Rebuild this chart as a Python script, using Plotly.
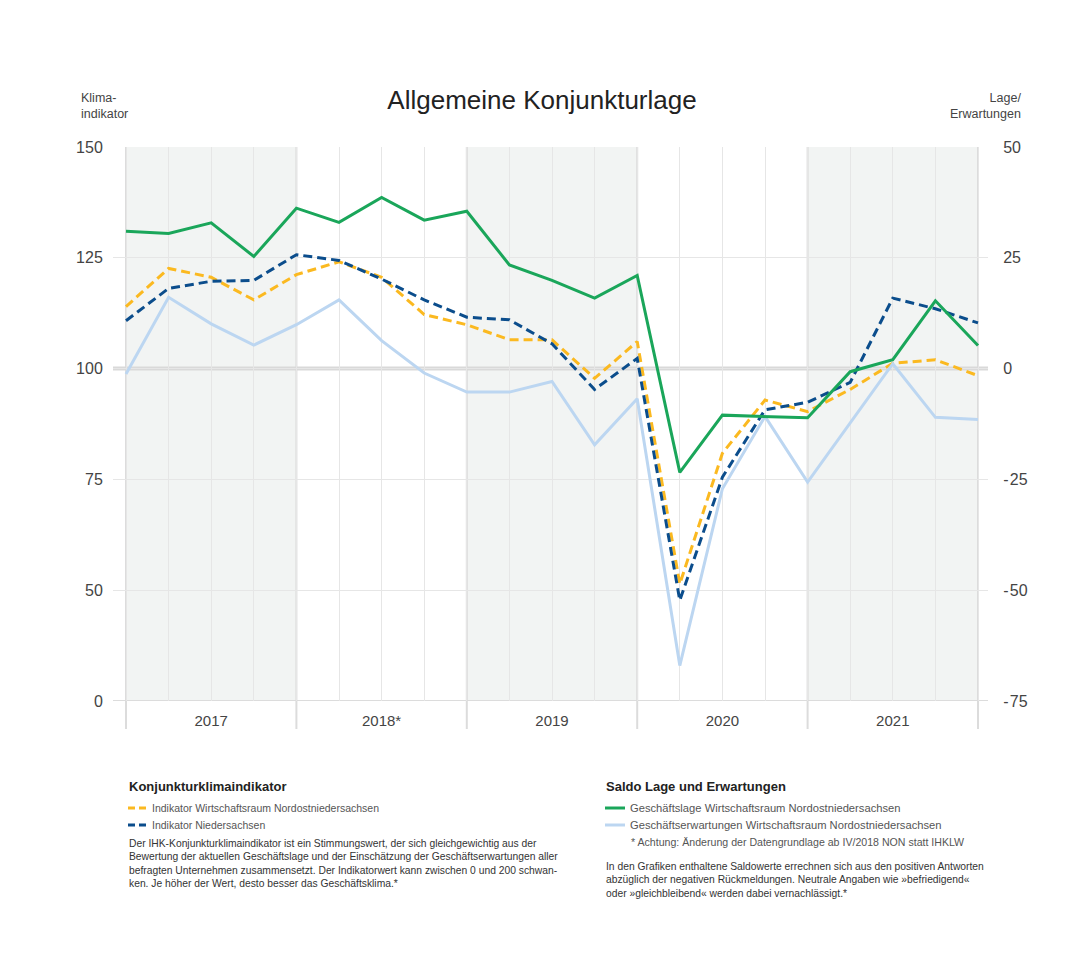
import plotly.graph_objects as go

# ---------------- data ----------------
years = ["2017", "2018*", "2019", "2020", "2021"]
waves_per_year = 4
periods = list(range(21))  # survey waves from start of 2017 to start of 2022

indikator_non = [114.0, 122.6, 120.6, 115.5, 121.2, 124.1, 120.6, 112.2, 109.9, 106.5, 106.5,
                 97.8, 106.1, 51.4, 80.9, 92.9, 90.3, 95.3, 101.2, 102.0, 98.4]
indikator_nds = [110.8, 118.1, 119.7, 119.9, 125.7, 124.4, 120.2, 115.5, 111.6, 111.0, 105.6,
                 95.3, 102.3, 47.7, 75.5, 90.7, 92.4, 96.9, 115.9, 113.5, 110.3]
lage_non = [31.0, 30.5, 32.9, 25.3, 36.2, 33.0, 38.6, 33.5, 35.5, 23.4, 19.9,
            15.9, 21.0, -23.4, -10.5, -10.8, -11.1, -0.7, 2.0, 15.3, 5.2]
erwartungen_non = [-1.2, 16.1, 10.1, 5.3, 9.9, 15.5, 6.3, -1.0, -5.3, -5.3, -2.9,
                   -17.2, -6.8, -67.0, -27.1, -10.8, -25.6, -12.3, 1.1, -11.0, -11.5]

left_tickvals = [150, 125, 100, 75, 50, 25]
left_ticktext = ["150", "125", "100", "75", "50", "0"]
right_tickvals = [50, 25, 0, -25, -50, -75]
right_ticktext = ["50", "25", "0", "-\u200a25", "-\u200a50", "-\u200a75"]

# ---------------- styling ----------------
W, H = 1071, 960
PL, PR, PT, PB = 113, 988, 147, 701  # plot area in pixels
FONT = "Liberation Sans, Arial, Helvetica, sans-serif"
C_GREEN = "#1aa65a"
C_LBLUE = "#bcd6f1"
C_YEL = "#fbb920"
C_DBLUE = "#0b4d8c"
GRID = "#e6e6e6"
YEARLINE = "#dcdcdc"
SHADE = "#f2f4f3"
TXT = "#444444"


def px(x):
    return (x - PL) / (PR - PL)


def py(y):
    return (PB - y) / (PB - PT)


fig = go.Figure()

fig.add_trace(go.Scatter(x=periods, y=erwartungen_non, yaxis="y2", mode="lines",
                         line=dict(color=C_LBLUE, width=3), showlegend=False, hoverinfo="skip"))
fig.add_trace(go.Scatter(x=periods, y=lage_non, yaxis="y2", mode="lines",
                         line=dict(color=C_GREEN, width=3), showlegend=False, hoverinfo="skip"))
fig.add_trace(go.Scatter(x=periods, y=indikator_non, yaxis="y", mode="lines",
                         line=dict(color=C_YEL, width=3, dash="9px,5px"), showlegend=False, hoverinfo="skip"))
fig.add_trace(go.Scatter(x=periods, y=indikator_nds, yaxis="y", mode="lines",
                         line=dict(color=C_DBLUE, width=3, dash="9px,5px"), showlegend=False, hoverinfo="skip"))

n = len(periods) - 1
x_lo = -(126 - PL) / ((978 - 126) / n)
x_hi = n + (PR - 978) / ((978 - 126) / n)

year_ticktext = []
for i in periods:
    if i % waves_per_year == waves_per_year // 2 and i // waves_per_year < len(years):
        year_ticktext.append(years[i // waves_per_year])
    else:
        year_ticktext.append("")

shapes = []
# shaded years
for k in range(0, len(years), 2):
    shapes.append(dict(type="rect", xref="x", yref="paper", x0=k * waves_per_year,
                       x1=(k + 1) * waves_per_year, y0=0, y1=1,
                       fillcolor=SHADE, line=dict(width=0), layer="below"))
# year boundary lines
for k in range(len(years) + 1):
    shapes.append(dict(type="line", xref="x", yref="paper", x0=k * waves_per_year,
                       x1=k * waves_per_year, y0=py(729), y1=1,
                       line=dict(color=YEARLINE, width=2), layer="below"))
# baseline and 100-line
shapes.append(dict(type="line", xref="paper", yref="y", x0=0, x1=1, y0=25, y1=25,
                   line=dict(color=YEARLINE, width=2), layer="below"))
shapes.append(dict(type="line", xref="paper", yref="y", x0=0, x1=1, y0=100, y1=100,
                   line=dict(color="#d9d9d9", width=4), layer="below"))

# legend samples
def sample(x0, x1, y, color, dash=None):
    ln = dict(color=color, width=3)
    if dash:
        ln["dash"] = dash
    shapes.append(dict(type="line", xref="paper", yref="paper", x0=px(x0), x1=px(x1),
                       y0=py(y), y1=py(y), line=ln))

sample(128, 147, 808, C_YEL, "7px,4px")
sample(128, 147, 825, C_DBLUE, "7px,4px")
sample(605, 625, 808, C_GREEN)
sample(605, 625, 825, C_LBLUE)

annotations = []


def note(x, y, text, size, color=TXT, xanchor="left", yanchor="middle", align="left"):
    annotations.append(dict(xref="paper", yref="paper", x=px(x), y=py(y), text=text,
                            showarrow=False, xanchor=xanchor, yanchor=yanchor, align=align,
                            font=dict(family=FONT, size=size, color=color)))


note(79, 106, "Klima-<br>indikator", 12.5, color=TXT)
note(1023, 106, "Lage/<br>Erwartungen", 12.5, color=TXT, xanchor="right", align="right")

note(127, 786, "<b>Konjunkturklimaindikator</b>", 13, color="#222222")
note(150, 808, "Indikator Wirtschaftsraum Nordostniedersachsen", 10.5, color="#555555")
note(150, 825, "Indikator Niedersachsen", 10.5, color="#555555")
note(127, 836, "Der IHK-Konjunkturklimaindikator ist ein Stimmungswert, der sich gleichgewichtig aus der<br>"
     "Bewertung der aktuellen Geschäftslage und der Einschätzung der Geschäftserwartungen aller<br>"
     "befragten Unternehmen zusammensetzt. Der Indikatorwert kann zwischen 0 und 200 schwan-<br>"
     "ken. Je höher der Wert, desto besser das Geschäftsklima.*", 10.3, color="#333333", yanchor="top")

note(604, 786, "<b>Saldo Lage und Erwartungen</b>", 13, color="#222222")
note(628, 808, "Geschäftslage Wirtschaftsraum Nordostniedersachsen", 11.2, color="#555555")
note(628, 825, "Geschäftserwartungen Wirtschaftsraum Nordostniedersachsen", 11.2, color="#555555")
note(629, 842, "* Achtung: Änderung der Datengrundlage ab IV/2018 NON statt IHKLW", 10.6, color="#555555")
note(604, 859, "In den Grafiken enthaltene Saldowerte errechnen sich aus den positiven Antworten<br>"
     "abzüglich der negativen Rückmeldungen. Neutrale Angaben wie »befriedigend«<br>"
     "oder »gleichbleibend« werden dabei vernachlässigt.*", 10.3, color="#333333", yanchor="top")

fig.update_layout(
    width=W, height=H, autosize=False,
    margin=dict(l=PL, r=W - PR, t=PT, b=H - PB, pad=0),
    paper_bgcolor="white", plot_bgcolor="white",
    font=dict(family=FONT, color=TXT),
    title=dict(text="Allgemeine Konjunkturlage", xref="container", yref="container",
               x=542 / W, y=1 - 100 / H, xanchor="center", yanchor="middle",
               font=dict(family=FONT, size=26, color="#222222")),
    xaxis=dict(range=[x_lo, x_hi], tickmode="array", tickvals=periods, ticktext=year_ticktext,
               showgrid=True, gridcolor=GRID, gridwidth=1, zeroline=False, showline=False,
               ticks="outside", ticklen=6, tickcolor="rgba(0,0,0,0)",
               tickfont=dict(family=FONT, size=15, color=TXT), fixedrange=True),
    yaxis=dict(range=[25, 150], tickmode="array", tickvals=left_tickvals, ticktext=left_ticktext,
               showgrid=True, gridcolor=GRID, gridwidth=1, zeroline=False, showline=False,
               ticks="outside", ticklen=6, tickcolor="rgba(0,0,0,0)",
               tickfont=dict(family=FONT, size=16, color=TXT)),
    yaxis2=dict(range=[-75, 50], overlaying="y", side="right", tickmode="array",
                tickvals=right_tickvals, ticktext=right_ticktext, showgrid=False,
                zeroline=False, showline=False, ticks="outside", ticklen=11,
                tickcolor="rgba(0,0,0,0)", tickfont=dict(family=FONT, size=16, color=TXT)),
    shapes=shapes,
    annotations=annotations,
)

fig.write_html("out.html", config={"displayModeBar": False},
               post_script="document.body.style.margin='0';document.body.style.padding='0';")
